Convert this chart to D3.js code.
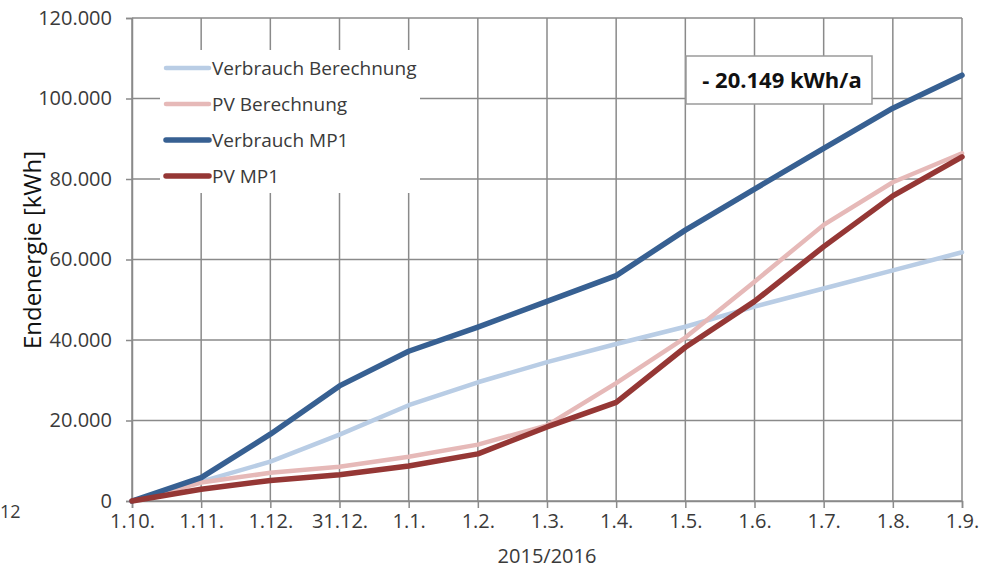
<!DOCTYPE html>
<html><head><meta charset="utf-8">
<script src="https://cdn.jsdelivr.net/npm/d3@7"></script>
<style>
body{margin:0;background:#fff;}
svg{display:block;font-family:"Open Sans",sans-serif;}
</style></head>
<body><svg id="c" width="982" height="569"></svg>
<script>
const categories = ["1.10.","1.11.","1.12.","31.12.","1.1.","1.2.","1.3.","1.4.","1.5.","1.6.","1.7.","1.8.","1.9."];
const verbrauchBerechnung = [0,4.8,9.8,16.5,23.8,29.5,34.5,39.0,43.3,48.3,52.8,57.3,61.8];
const pvBerechnung = [0,4.6,7.0,8.5,11.0,14.0,18.8,29.3,40.6,54.5,68.6,79.2,86.4];
const verbrauchMP1 = [0,5.8,16.6,28.6,37.2,43.2,49.6,56.0,67.3,77.5,87.6,97.6,105.8];
const pvMP1 = [0,2.9,5.1,6.5,8.7,11.7,18.4,24.5,38.2,49.6,63.2,75.8,85.5];
const yTicks = [0,20,40,60,80,100,120];
const yTickLabels = ["0","20.000","40.000","60.000","80.000","100.000","120.000"];
const seriesNames = ["Verbrauch Berechnung","PV Berechnung","Verbrauch MP1","PV MP1"];
const annotation = "- 20.149 kWh/a";

const series = [
  {name:seriesNames[0], values:verbrauchBerechnung, color:"#b9cde5", w:4.5},
  {name:seriesNames[1], values:pvBerechnung, color:"#e6b9b8", w:4.5},
  {name:seriesNames[2], values:verbrauchMP1, color:"#376092", w:5.5},
  {name:seriesNames[3], values:pvMP1, color:"#953735", w:5.5}
];

const svg = d3.select("#c");
const x = d3.scalePoint().domain(categories).range([132,962]);
const y = d3.scaleLinear().domain([0,120]).range([501,18]);
const gridColor = "#8a8a8a";
const textColor = "#3a3a3a";

// grid
svg.append("g").selectAll("line").data(categories).join("line")
  .attr("x1",d=>x(d)).attr("x2",d=>x(d)).attr("y1",y(0)).attr("y2",y(120))
  .attr("stroke",gridColor).attr("stroke-width",1.5);
svg.append("g").selectAll("line").data(yTicks).join("line")
  .attr("x1",132).attr("x2",962).attr("y1",d=>y(d)).attr("y2",d=>y(d))
  .attr("stroke",gridColor).attr("stroke-width",1.5);

// axes
const yAxis = d3.axisLeft(y).tickValues(yTicks).tickFormat((d,i)=>yTickLabels[i]).tickSize(6).tickPadding(14);
const gy = svg.append("g").attr("transform","translate(132,0)").call(yAxis);
gy.select(".domain").attr("stroke",gridColor).attr("stroke-width",1.5);
gy.selectAll(".tick line").attr("stroke",gridColor).attr("stroke-width",1.5);
gy.selectAll(".tick text").attr("font-size",20).attr("fill",textColor).attr("font-family","Open Sans");

const xAxis = d3.axisBottom(x).tickSize(7).tickPadding(6);
const gx = svg.append("g").attr("transform","translate(0,501)").call(xAxis);
gx.select(".domain").attr("stroke",gridColor).attr("stroke-width",1.5);
gx.selectAll(".tick line").attr("stroke",gridColor).attr("stroke-width",1.5);
gx.selectAll(".tick text").attr("font-size",20).attr("fill",textColor).attr("font-family","Open Sans");

// lines
const line = d3.line().x((d,i)=>x(categories[i])).y(d=>y(d));
series.forEach(s=>{
  svg.append("path").datum(s.values).attr("d",line)
    .attr("fill","none").attr("stroke",s.color).attr("stroke-width",s.w)
    .attr("stroke-linejoin","round").attr("stroke-linecap","round");
});

// legend
const lg = svg.append("g");
lg.append("rect").attr("x",160).attr("y",50).attr("width",260).attr("height",143).attr("fill","#fff");
series.forEach((s,i)=>{
  const yy = 68 + i*36;
  lg.append("line").attr("x1",166).attr("x2",209).attr("y1",yy).attr("y2",yy)
    .attr("stroke",s.color).attr("stroke-width",s.w).attr("stroke-linecap","round");
  lg.append("text").attr("x",212).attr("y",yy+7).text(s.name)
    .attr("font-size",19).attr("fill",textColor);
});

// annotation
svg.append("rect").attr("x",686).attr("y",56).attr("width",186).attr("height",48)
  .attr("fill","#fff").attr("stroke","#9a9a9a").attr("stroke-width",1.5);
svg.append("text").attr("x",782).attr("y",88).attr("text-anchor","middle")
  .attr("font-size",22).attr("font-weight","bold").attr("fill","#111").text(annotation);

// axis titles
svg.append("text").attr("transform","translate(41,250) rotate(-90)").attr("text-anchor","middle")
  .attr("font-size",24).attr("fill","#111").text("Endenergie [kWh]");
svg.append("text").attr("x",547).attr("y",563).attr("text-anchor","middle")
  .attr("font-size",20).attr("fill",textColor).text("2015/2016");
svg.append("text").attr("x",0).attr("y",518).attr("text-anchor","start")
  .attr("font-size",18).attr("fill",textColor).text("12");
</script></body></html>
